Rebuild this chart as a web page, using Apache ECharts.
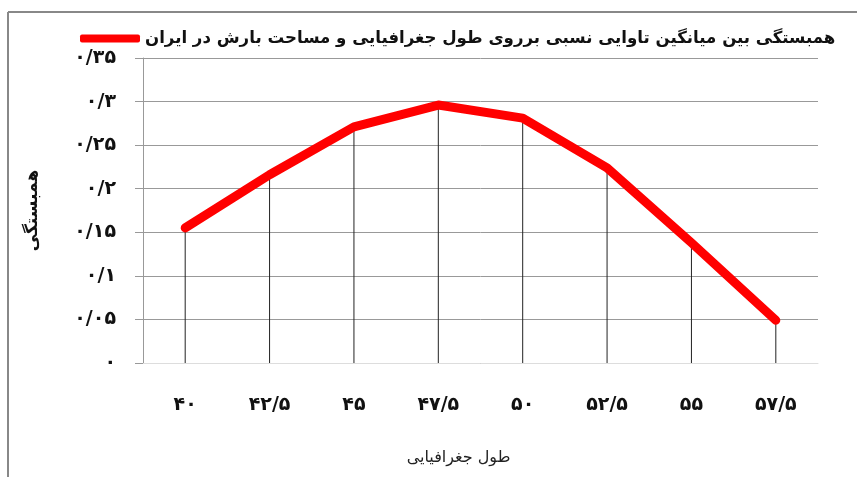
<!DOCTYPE html>
<html>
<head>
<meta charset="utf-8">
<script src="https://cdn.jsdelivr.net/npm/echarts@6/dist/echarts.min.js"></script>
<style>
html,body{margin:0;padding:0;background:#fff;}
#c{width:857px;height:477px;}
</style>
</head>
<body>
<div id="c"></div>
<script>
var categories = ['۴۰', '۴۲/۵', '۴۵', '۴۷/۵', '۵۰', '۵۲/۵', '۵۵', '۵۷/۵'];
var values = [0.155, 0.216, 0.271, 0.296, 0.281, 0.224, 0.138, 0.049];
var yTickLabels = ['۰', '۰/۰۵', '۰/۱', '۰/۱۵', '۰/۲', '۰/۲۵', '۰/۳', '۰/۳۵'];
var seriesName = 'همبستگی بین میانگین تاوایی نسبی برروی طول جغرافیایی و مساحت بارش در ایران';
var xName = 'طول جغرافیایی';
var yName = 'همبستگی';

var font = 'DejaVu Sans';
var chart = echarts.init(document.getElementById('c'));
chart.setOption({
  animation: false,
  textStyle: {fontFamily: font},
  graphic: [
    {type: 'line', shape: {x1: 8, y1: 12, x2: 857, y2: 12}, style: {stroke: '#888', lineWidth: 2}},
    {type: 'line', shape: {x1: 8, y1: 12, x2: 8, y2: 477}, style: {stroke: '#888', lineWidth: 2}}
  ],
  legend: {
    data: [seriesName],
    left: 75, top: 25,
    itemWidth: 60, itemHeight: 8, itemGap: 4,
    icon: 'roundRect',
    textStyle: {fontFamily: font, fontSize: 16.6, fontWeight: 'bold', color: '#111'}
  },
  grid: {left: 143, right: 39, top: 58, bottom: 114},
  xAxis: {
    type: 'category',
    data: categories,
    boundaryGap: true,
    name: xName,
    nameLocation: 'middle',
    nameGap: 87,
    nameTextStyle: {fontFamily: font, fontSize: 16, color: '#222', padding: [0, 44, 0, 0]},
    axisLine: {show: true, lineStyle: {color: '#ddd'}},
    axisTick: {show: false},
    axisLabel: {fontFamily: font, fontSize: 19, fontWeight: 'bold', color: '#111', margin: 33}
  },
  yAxis: {
    type: 'value',
    min: 0, max: 0.35, interval: 0.05,
    name: yName,
    nameLocation: 'middle',
    nameGap: 102,
    nameRotate: 90,
    nameTextStyle: {fontFamily: font, fontSize: 17, fontWeight: 'bold', color: '#111'},
    axisLine: {show: true, lineStyle: {color: '#999'}},
    axisTick: {show: true, length: 8, lineStyle: {color: '#999'}},
    splitLine: {show: true, lineStyle: {color: '#999', width: 1}},
    axisLabel: {
      fontFamily: font, fontSize: 19, fontWeight: 'bold', color: '#111', margin: 27,
      formatter: function (v) { return yTickLabels[Math.round(v / 0.05)]; }
    }
  },
  series: [
    {
      name: 'drop',
      type: 'bar',
      data: values,
      barWidth: 1,
      itemStyle: {color: '#222'},
      silent: true,
      z: 1
    },
    {
      name: seriesName,
      type: 'line',
      data: values,
      showSymbol: false,
      symbol: 'none',
      lineStyle: {color: '#ff0000', width: 9, cap: 'round', join: 'round'},
      itemStyle: {color: '#ff0000'},
      z: 3
    }
  ]
});
</script>
</body>
</html>
